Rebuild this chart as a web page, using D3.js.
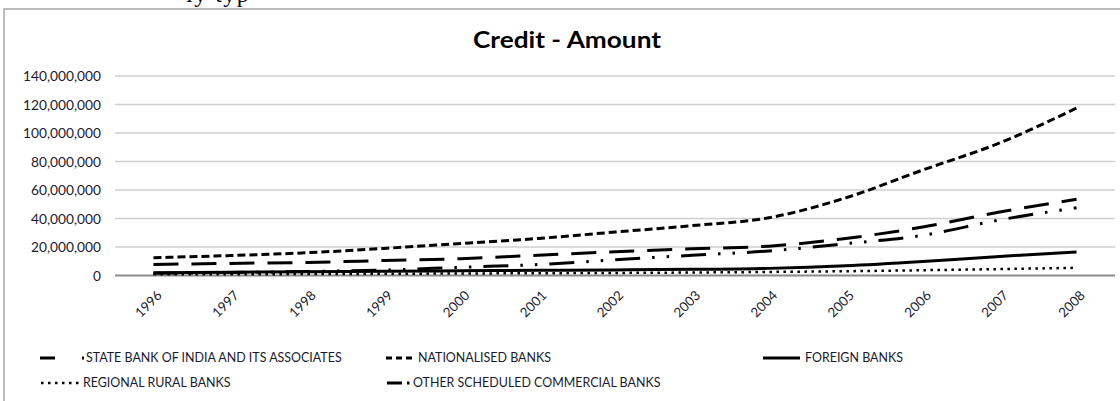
<!DOCTYPE html>
<html><head><meta charset="utf-8">
<script src="https://cdn.jsdelivr.net/npm/d3@7"></script>
<style>body{margin:0;background:#fff}svg{display:block}</style>
</head><body>
<svg id="c" width="1120" height="401"></svg>
<script>
const years = ["1996","1997","1998","1999","2000","2001","2002","2003","2004","2005","2006","2007","2008"];
const sbi  = [7.8, 8.5, 9.2, 10.5, 11.8, 14.2, 16.7, 18.8, 20.6, 26, 34, 44.5, 53.5].map(v=>v*1e6);
const nat  = [12.5, 14, 16, 19, 22.5, 26, 30.5, 35, 40.5, 54.5, 74, 93, 117.5].map(v=>v*1e6);
const frn  = [2.0, 2.3, 2.6, 3.0, 3.3, 3.6, 3.9, 4.3, 5.0, 6.8, 9.8, 13.4, 16.5].map(v=>v*1e6);
const rrb  = [0.8, 0.9, 1.0, 1.2, 1.4, 1.6, 1.8, 2.1, 2.5, 3.0, 3.7, 4.5, 5.4].map(v=>v*1e6);
const oscb = [1.6, 2.1, 2.8, 3.8, 5.8, 7.7, 11, 14.2, 17.2, 22.3, 28.2, 39, 47.5].map(v=>v*1e6);
const yTicks = [0, 20e6, 40e6, 60e6, 80e6, 100e6, 120e6, 140e6];
const seriesNames = ["STATE BANK OF INDIA AND ITS ASSOCIATES","NATIONALISED BANKS","FOREIGN BANKS","REGIONAL RURAL BANKS","OTHER SCHEDULED COMMERCIAL BANKS"];

const styles = [
  {dash:"25,13", w:3},
  {dash:"8,4", w:3},
  {dash:null, w:3},
  {dash:"2.5,4.5", w:2.5},
  {dash:"25,12,2.5,12,2.5,12", w:3}
];
const data = [sbi, nat, frn, rrb, oscb];

const svg = d3.select("#c");
const font = "Lato, 'Open Sans', sans-serif";

// helper: font size giving a wanted text width
function fitSize(str, wanted, weight){
  const t = svg.append("text").attr("font-family",font).attr("font-size",20)
    .attr("font-weight",weight||"normal").text(str);
  const w = t.node().getComputedTextLength();
  t.remove();
  return 20*wanted/w;
}
const ySize = fitSize("140,000,000", 78);
const xSize = fitSize("1996", 31);
const legSize = fitSize("STATE BANK OF INDIA AND ITS ASSOCIATES", 256);

// document text fragment above the frame
svg.append("text").attr("x",186).attr("y",2).attr("font-family","'Liberation Serif', serif")
  .attr("font-size",24).attr("letter-spacing",1.5).attr("fill","#000").text("ly typ");

// frame
svg.append("rect").attr("x",4).attr("y",9).attr("width",1300).attr("height",500)
  .attr("fill","#fff").attr("stroke","#b4b4b4").attr("stroke-width",1.8);

const x = d3.scalePoint().domain(years).range([115,1115]).padding(0.5);
const y = d3.scaleLinear().domain([0,140e6]).range([275.5,76]);

// gridlines
svg.append("g").selectAll("line").data(yTicks.filter(d=>d>0)).join("line")
  .attr("x1",115).attr("x2",1115).attr("y1",d=>y(d)).attr("y2",d=>y(d))
  .attr("stroke","#cfcfcf").attr("stroke-width",1.6);

// y axis labels
const yAxis = d3.axisLeft(y).tickValues(yTicks).tickSize(0).tickPadding(0)
  .tickFormat(d3.format(","));
const gy = svg.append("g").attr("transform","translate(101,0)").call(yAxis);
gy.select(".domain").remove();
gy.selectAll("text").attr("font-family",font).attr("font-size",ySize).attr("fill","#1a1a2e").attr("dy","0.35em");

// x axis line
svg.append("line").attr("x1",115).attr("x2",1115).attr("y1",y(0)).attr("y2",y(0))
  .attr("stroke","#8a8a8a").attr("stroke-width",2);

// x labels
const xAxis = d3.axisBottom(x).tickSize(0).tickPadding(0);
const gx = svg.append("g").call(xAxis);
gx.select(".domain").remove();
gx.selectAll(".tick").attr("transform",d=>`translate(${x(d)+6},293)`);
gx.selectAll("text").attr("font-family",font).attr("font-size",xSize).attr("fill","#1a1a2e")
  .attr("text-anchor","end").attr("dy","0.35em").attr("y",0).attr("transform","rotate(-45)");

// lines
const line = d3.line().x((d,i)=>x(years[i])).y(d=>y(d)).curve(d3.curveMonotoneX);
data.forEach((s,i)=>{
  svg.append("path").attr("d",line(s)).attr("fill","none").attr("stroke","#000")
    .attr("stroke-width",styles[i].w).attr("stroke-dasharray",styles[i].dash);
});

// title
svg.append("text").attr("x",567).attr("y",48).attr("text-anchor","middle")
  .attr("font-family",font).attr("font-weight","bold").attr("font-size",23).attr("fill","#000")
  .attr("textLength",188).attr("lengthAdjust","spacingAndGlyphs")
  .text("Credit - Amount");

// legend
const leg = [
  {x1:40,x2:84,tx:86,y:358,dash:"15,27,2.5",w:3},
  {x1:386,x2:414,tx:418,y:358,dash:"6,4",w:3},
  {x1:763,x2:800,tx:805,y:358,dash:null,w:3},
  {x1:41,x2:79,tx:83,y:383,dash:"2.5,4.5",w:2.5},
  {x1:387,x2:410,tx:413,y:383,dash:"15,5,2.5",w:3}
];
leg.forEach((l,i)=>{
  svg.append("line").attr("x1",l.x1).attr("x2",l.x2).attr("y1",l.y).attr("y2",l.y)
    .attr("stroke","#000").attr("stroke-width",l.w).attr("stroke-dasharray",l.dash);
  svg.append("text").attr("x",l.tx).attr("y",l.y).attr("dy","0.35em")
    .attr("font-family",font).attr("font-size",legSize).attr("fill","#1a1a2e").text(seriesNames[i]);
});
</script>
</body></html>
